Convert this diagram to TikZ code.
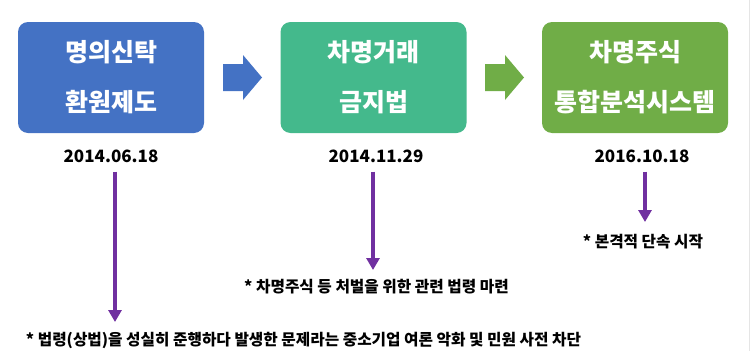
\documentclass[tikz,border=0pt]{standalone}
\usepackage{fontspec}
\setmainfont{Noto Sans CJK KR}
\usetikzlibrary{arrows.meta}
\definecolor{boxblue}{HTML}{4472C4}
\definecolor{boxgreen}{HTML}{44B98C}
\definecolor{boxolive}{HTML}{70AD47}
\definecolor{linepurple}{HTML}{7030A0}
\begin{document}
\begin{tikzpicture}[x=1pt, y=-1pt,
    stagebox/.style={rounded corners=10pt, minimum width=186pt, minimum height=111pt,
      text=white, align=center, font=\fontsize{25}{50}\selectfont\bfseries},
    datelabel/.style={inner sep=9pt, font=\fontsize{17}{20}\selectfont\bfseries},
    notelabel/.style={inner sep=0pt, font=\fontsize{15.7}{17}\selectfont\bfseries},
    pline/.style={draw=linepurple, line width=4pt, -{Triangle[width=13pt,length=12pt]}}]
    \useasboundingbox (0,0) rectangle (755,351);
    \draw[gray!20] (749,0) -- (749,351);

    % stage boxes
    \node[stagebox, fill=boxblue] (b1) at (111,77.5) {명의신탁\\환원제도};
    \node[stagebox, fill=boxgreen] (b2) at (373.5,77.5) {차명거래\\금지법};
    \node[stagebox, fill=boxolive] (b3) at (635,77.5) {차명주식\\통합분석시스템};

    % block arrows between the boxes
    \fill[boxblue] (223,64) -- (243,64) -- (243,55) -- (262,77.5) -- (243,100)
      -- (243,91) -- (223,91) -- cycle;
    \fill[boxolive] (485,64) -- (505,64) -- (505,55) -- (524,77.5) -- (505,100)
      -- (505,91) -- (485,91) -- cycle;

    % dates
    \node[datelabel] (d1) at (111,156) {2014.06.18};
    \node[datelabel] (d2) at (376,156) {2014.11.29};
    \node[datelabel] (d3) at (642,156) {2016.10.18};

    \coordinate (e1) at (115,322);
    \coordinate (e2) at (373,270);
    \coordinate (e3) at (645,222);
    \draw[pline] (d1.south -| e1) -- (e1);
    \draw[pline] (d2.south -| e2) -- (e2);
    \draw[pline] (d3.south -| e3) -- (e3);

    % notes
    \node[notelabel] (n1) at (303.5,340) {* 법령(상법)을 성실히 준행하다 발생한 문제라는 중소기업 여론 악화 및 민원 사전 차단};
    \node[notelabel] (n2) at (376.5,287) {* 차명주식 등 처벌을 위한 관련 법령 마련};
    \node[notelabel] (n3) at (643,242) {* 본격적 단속 시작};
\end{tikzpicture}
\end{document}
